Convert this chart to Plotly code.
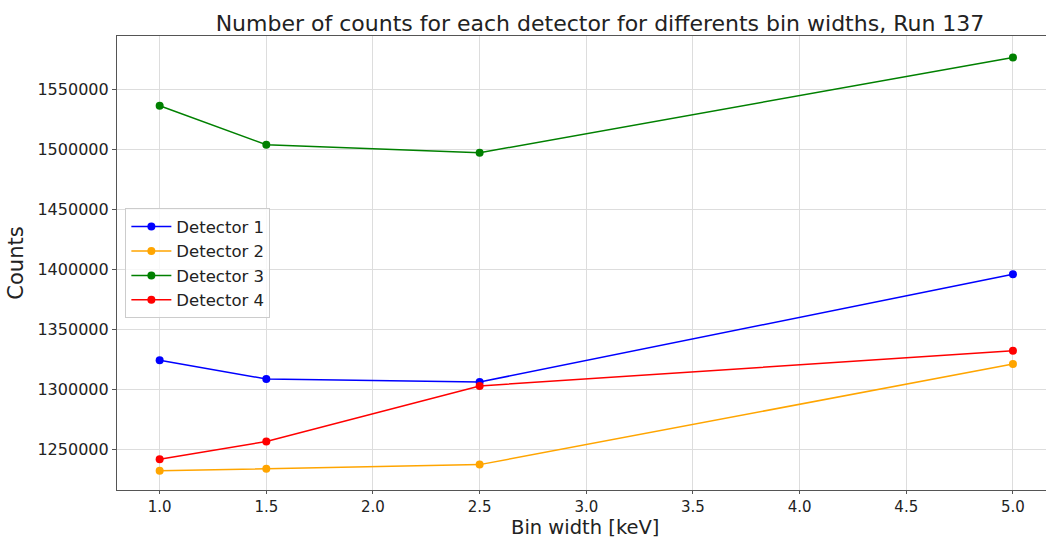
import plotly.graph_objects as go

bin_widths = [1.0, 1.5, 2.5, 5.0]
det1 = [1324200, 1308500, 1306000, 1396000]
det2 = [1231900, 1233600, 1237000, 1321000]
det3 = [1536700, 1504200, 1497500, 1577000]
det4 = [1241500, 1256300, 1302700, 1332200]
names = ["Detector 1", "Detector 2", "Detector 3", "Detector 4"]
colors = ["blue", "orange", "green", "red"]
x_ticks = [1.0, 1.5, 2.0, 2.5, 3.0, 3.5, 4.0, 4.5, 5.0]
y_ticks = [1250000, 1300000, 1350000, 1400000, 1450000, 1500000, 1550000]

fig = go.Figure()
for name, vals, c in zip(names, [det1, det2, det3, det4], colors):
    fig.add_trace(go.Scatter(
        x=bin_widths, y=vals, mode="lines+markers", name=name,
        line=dict(color=c, width=1.5), marker=dict(color=c, size=8),
    ))

font = "DejaVu Sans, sans-serif"
fig.update_layout(
    width=1046, height=541,
    paper_bgcolor="white", plot_bgcolor="white",
    margin=dict(l=117, r=0, t=36, b=51),
    font=dict(family=font, color="#222222"),
    title=dict(text="Number of counts for each detector for differents bin widths, Run 137",
               x=0.5736, xanchor="center", y=0.957, yanchor="middle",
               font=dict(size=22, family=font, color="#222222")),
    legend=dict(x=0.009, y=0.6205, xanchor="left", yanchor="top",
                bgcolor="rgba(255,255,255,0.8)", bordercolor="#cccccc", borderwidth=1,
                font=dict(size=16.5, family=font, color="#222222"),
                tracegroupgap=0, itemwidth=40),
    annotations=[dict(text="Bin width [keV]", xref="paper", yref="paper",
                      x=0.504, y=-0.0837, xanchor="center", yanchor="middle",
                      showarrow=False, borderpad=0,
                      font=dict(size=19.5, family=font, color="#222222"))],
)
fig.update_xaxes(
    range=[0.8, 5.155], tickvals=x_ticks, ticktext=[f"{v:.1f}" for v in x_ticks],
    showgrid=True, gridcolor="#dddddd", gridwidth=1, zeroline=False,
    showline=True, linecolor="#555555", linewidth=1.2, mirror=True,
    ticks="outside", ticklen=3, tickcolor="#555555", automargin=False,
    tickfont=dict(size=15, family=font, color="#222222"),
)
fig.update_yaxes(
    range=[1215800, 1595000], tickvals=y_ticks, ticktext=[str(v) for v in y_ticks],
    showgrid=True, gridcolor="#dddddd", gridwidth=1, zeroline=False,
    showline=True, linecolor="#555555", linewidth=1.2, mirror=True,
    ticks="outside", ticklen=4, tickcolor="#555555", automargin=False,
    tickfont=dict(size=16, family=font, color="#222222"),
    title=dict(text="Counts", font=dict(size=21, family=font, color="#222222"), standoff=8),
)
fig.write_html("out.html")
